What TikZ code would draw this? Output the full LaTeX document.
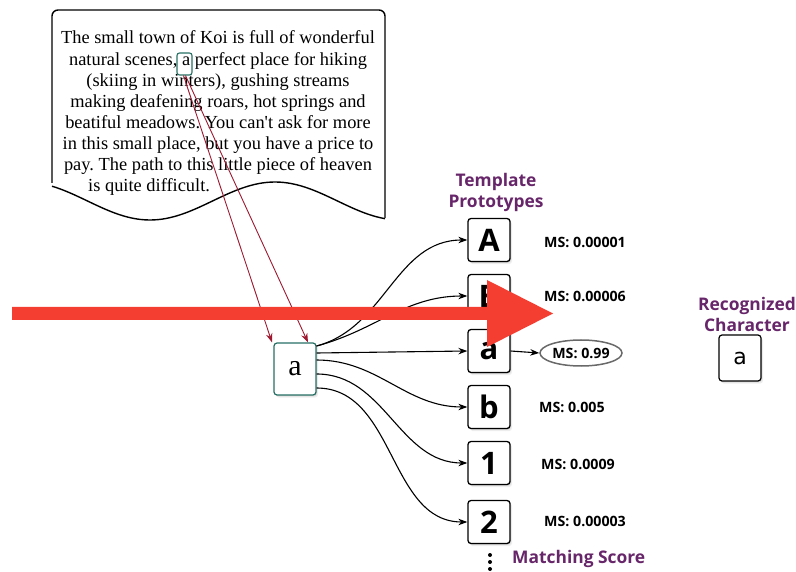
\documentclass[tikz,border=0pt]{standalone}
\usepackage{fontspec}
\setmainfont{Liberation Serif}
\newfontfamily\labelfont{Open Sans}
\newfontfamily\plainsans{DejaVu Sans}
\usetikzlibrary{arrows.meta,shadows,shapes.geometric}
\frenchspacing

\definecolor{tealline}{RGB}{38,112,100}
\definecolor{linkred}{RGB}{158,24,48}
\definecolor{headpurple}{RGB}{104,38,106}
\definecolor{bigred}{RGB}{244,62,50}
\definecolor{ellgray}{RGB}{105,105,105}

\tikzset{
  softshadow/.style={
    drop shadow={shadow xshift=2pt, shadow yshift=-2.6pt, opacity=0.14},
    drop shadow={shadow xshift=1pt, shadow yshift=-1.3pt, opacity=0.22}},
  paraline/.style={anchor=base, inner sep=0pt, font=\fontsize{18.4}{21}\selectfont},
  wordbox/.style={draw=tealline, line width=1.1pt, rounded corners=2.5pt,
    minimum width=15pt, minimum height=22pt, inner sep=0pt},
  inputbox/.style={draw=tealline, line width=1.2pt, rounded corners=3pt, fill=white,
    minimum width=42pt, minimum height=52pt, inner sep=0pt,
    font=\fontsize{30}{30}\selectfont, softshadow},
  protobox/.style={draw=black, line width=1.3pt, rounded corners=3pt, fill=white,
    minimum width=42pt, minimum height=43pt, inner sep=0pt,
    font=\labelfont\bfseries\fontsize{31}{31}\selectfont, softshadow},
  resultbox/.style={draw=black, line width=1.2pt, rounded corners=3pt, fill=white,
    minimum width=42pt, minimum height=46pt, inner sep=0pt,
    font=\plainsans\fontsize{22}{22}\selectfont, softshadow},
  scorelabel/.style={anchor=west, inner sep=0pt, font=\labelfont\bfseries\fontsize{14.2}{14}\selectfont},
  scoreoval/.style={ellipse, draw=ellgray, line width=1.5pt, minimum width=82pt,
    minimum height=26pt, inner sep=0pt, font=\labelfont\bfseries\fontsize{14.2}{14}\selectfont},
  heading/.style={align=center, inner sep=0pt, text=headpurple,
    font=\labelfont\bfseries\fontsize{17.4}{21}\selectfont},
  matchlink/.style={line width=1.1pt, -{Stealth[length=9pt,width=6.5pt]}},
  sourcelink/.style={draw=linkred, line width=0.9pt, -{Stealth[length=9pt,width=6.5pt]}},
  docline/.style={line width=1.4pt, line join=round},
}

\begin{document}
\begin{tikzpicture}[x=1pt,y=-1pt]
\useasboundingbox (0,0) rectangle (796,572);

% page outline with a wavy lower edge
\draw[docline, rounded corners=6pt] (52,183) -- (52,10) -- (385,10) -- (385,218);
\draw[docline] plot[domain=385:52, samples=80, smooth] (\x, {201+19*cos(1.44*(\x-150))});

% paragraph text
\node[paraline] (l1) at (218,44.0) {The small town of Koi is full of wonderful};
\node[paraline] (l2) at (218,65.1) {natural scenes, a perfect place for hiking};
\node[paraline] (l3) at (218,86.3) {(skiing in winters), gushing streams};
\node[paraline] (l4) at (218,107.4) {making deafening roars, hot springs and};
\node[paraline] (l5) at (218,128.6) {beatiful meadows. You can\textquotesingle t ask for more};
\node[paraline] (l6) at (218,149.7) {in this small place, but you have a price to};
\node[paraline] (l7) at (218,170.9) {pay. The path to this little piece of heaven};
\node[paraline, anchor=base west] (l8) at (88,192.0) {is quite difficult.};

% selected character in the text
\node[wordbox] (pick) at (184.5,64) {};

% extracted character
\node[inputbox] (inp) at (295,369) {a};

% template prototypes
\node[protobox] (pA) at (489,240) {A};
\node[protobox] (pB) at (489,296) {B};
\node[protobox] (pa) at (489,351) {a};
\node[protobox] (pb) at (489,407) {b};
\node[protobox] (p1) at (489,463) {1};
\node[protobox] (p2) at (489,522) {2};

\fill (490,555) circle (2pt) (490,562) circle (2pt) (490,569) circle (2pt);

% matching scores
\node[scorelabel] (sA) at (544,242) {MS: 0.00001};
\node[scorelabel] (sB) at (544,296) {MS: 0.00006};
\node[scoreoval] (sa) at (581,353) {MS: 0.99};
\node[scorelabel] (sb) at (539,407) {MS: 0.005};
\node[scorelabel] (s1) at (541,464) {MS: 0.0009};
\node[scorelabel] (s2) at (544,521) {MS: 0.00003};

% headings
\node[heading] (hproto) at (496,192) {Template\\Prototypes};
\node[heading, anchor=west] (hscore) at (512,559) {Matching Score};
\node[heading] (hrec) at (747,314) {Recognized\\Character};

% recognized character
\node[resultbox] (res) at (740,358) {a};

% links from the text to the extracted character
\draw[sourcelink] ([xshift=-1pt]pick.south) -- ([xshift=-23pt]inp.north);
\draw[sourcelink] ([xshift=1pt]pick.south) -- ([xshift=13pt]inp.north);

% comparisons with every prototype
\draw[matchlink] ([yshift=23pt]inp.east) to[out=15,in=180] (pA.west);
\draw[matchlink] ([yshift=23pt]inp.east) to[out=15,in=180] (pB.west);
\draw[matchlink] ([yshift=16pt]inp.east) -- (pa.west);
\draw[matchlink] ([yshift=9pt]inp.east) to[out=0,in=180] (pb.west);
\draw[matchlink] ([yshift=-5pt]inp.east) to[out=0,in=180] (p1.west);
\draw[matchlink] ([yshift=-19pt]inp.east) to[out=0,in=180] (p2.west);
\draw[matchlink] (pa.east) -- (sa.west);

% large arrow across the figure
\fill[bigred] (12,307) -- (487,307) -- (487,280) -- (553,313.5) -- (487,347) -- (487,320) -- (12,320) -- cycle;
\end{tikzpicture}
\end{document}
